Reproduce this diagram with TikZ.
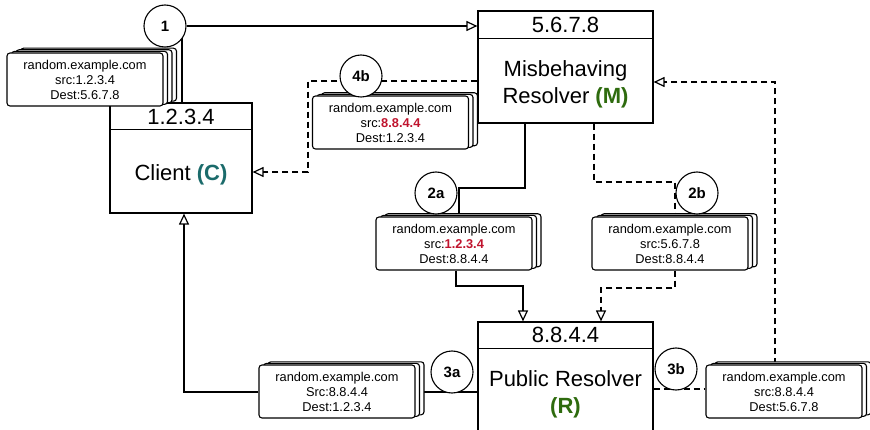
\documentclass[tikz,border=0pt]{standalone}
\usepackage{fontspec}
\setmainfont{Liberation Sans}
\usetikzlibrary{arrows.meta,calc}
\definecolor{cteal}{HTML}{1B6B6B}
\definecolor{mgreen}{HTML}{2E6B0E}
\definecolor{sred}{HTML}{C0142E}
\pgfdeclarelayer{bg}
\pgfsetlayers{bg,main}
\tikzset{
  box/.style={draw, fill=white, line width=1.2pt, inner sep=0pt},
  boxtitle/.style={font=\fontsize{22}{27}\selectfont, inner sep=0pt, align=center},
  cardshape/.style={draw, fill=white, line width=1.1pt, rounded corners=3pt,
    minimum width=156pt, minimum height=53pt, inner sep=0pt, align=center,
    font=\fontsize{12.8}{15}\selectfont},
  stepcircle/.style={circle, draw, fill=white, line width=1.1pt, minimum size=42pt,
    inner sep=0pt, font=\bfseries\fontsize{15}{18}\selectfont},
  conn/.style={line width=1.2pt},
  dconn/.style={line width=1.2pt, dash pattern=on 6pt off 4pt},
  arr/.style={-{Triangle[open,length=11pt,width=10pt]}}
}
\newcommand\stackcard[4]{%
  \foreach \k in {#3,...,1}{\node[cardshape, xshift={4.5pt*\k}, yshift={1.6pt*\k}] (#1-b\k) at (#2) {};}
  \node[cardshape] (#1) at (#2) {#4};
}
\begin{document}
\begin{tikzpicture}[x=1pt,y=-1pt]
\useasboundingbox (0,0) rectangle (870,430);

% main boxes
\node[box, minimum width=142pt, minimum height=110pt] (C) at (181,158) {};
\draw[line width=1.2pt] ([yshift=-27pt]C.north west) -- ([yshift=-27pt]C.north east);
\node[boxtitle] (Ct) at (181,117) {1.2.3.4};
\node[boxtitle] (Cb) at (181,175) {Client \textcolor{cteal}{\textbf{(C)}}};

\node[box, minimum width=175pt, minimum height=112pt] (M) at (565.5,67) {};
\draw[line width=1.2pt] ([yshift=-28pt]M.north west) -- ([yshift=-28pt]M.north east);
\node[boxtitle] (Mt) at (565.5,25) {5.6.7.8};
\node[boxtitle] (Mb) at (565.5,84) {Misbehaving\\Resolver \textcolor{mgreen}{\textbf{(M)}}};

\node[box, minimum width=175pt, minimum height=124pt] (R) at (565.5,384) {};
\draw[line width=1.2pt] ([yshift=-27pt]R.north west) -- ([yshift=-27pt]R.north east);
\node[boxtitle] (Rt) at (565.5,335) {8.8.4.4};
\node[boxtitle] (Rb) at (565.5,394) {Public Resolver\\\textcolor{mgreen}{\textbf{(R)}}};

% message cards
\stackcard{s1}{85,79.5}{3}{random.example.com\\src:1.2.3.4\\Dest:5.6.7.8}
\stackcard{s4b}{390.5,122.5}{2}{random.example.com\\src:\textcolor{sred}{\textbf{8.8.4.4}}\\Dest:1.2.3.4}
\stackcard{s2a}{454,243.5}{2}{random.example.com\\src:\textcolor{sred}{\textbf{1.2.3.4}}\\Dest:8.8.4.4}
\stackcard{s2b}{670,243.5}{2}{random.example.com\\src:5.6.7.8\\Dest:8.8.4.4}
\stackcard{s3a}{337,391.5}{2}{random.example.com\\Src:8.8.4.4\\Dest:1.2.3.4}
\stackcard{s3b}{784,391.5}{2}{random.example.com\\src:8.8.4.4\\Dest:5.6.7.8}

% step circles
\node[stepcircle] (c1) at (165,26) {1};
\node[stepcircle] (c4b) at (361,76) {4b};
\node[stepcircle] (c2a) at (436,193) {2a};
\node[stepcircle] (c2b) at (697,193) {2b};
\node[stepcircle] (c3a) at (452,372) {3a};
\node[stepcircle] (c3b) at (676,369) {3b};

% bend points
\coordinate (k1) at (182,40);
\coordinate (b4a) at (308,81);
\coordinate (b4b) at (308,172);
\coordinate (a2a) at (525,188);
\coordinate (a2b) at (459,188);
\coordinate (a2c) at (456,286);
\coordinate (a2d) at (523,286);
\coordinate (d2a) at (594,182);
\coordinate (d2b) at (675,182);
\coordinate (d2c) at (675,288);
\coordinate (d2d) at (601,288);
\coordinate (e3a) at (184,392);
\coordinate (f3a) at (653,389);
\coordinate (f3b) at (775,82);

\begin{pgfonlayer}{bg}
  % step 1
  \draw[conn] (C.north -| k1) -- (k1 |- c1.center);
  \draw[conn,arr] (c1.east) -- (c1.east -| M.west);
  % step 4b
  \draw[dconn,arr] (M.west |- b4a) -- (b4a) -- (b4b) -- (b4b -| C.east);
  % step 2a
  \draw[conn] (M.south -| a2a) -- (a2a) -- (a2b) -- (a2b |- s2a.north);
  \draw[conn,arr] (s2a.south -| a2c) -- (a2c) -- (a2d) -- (a2d |- R.north);
  % step 2b
  \draw[dconn] (M.south -| d2a) -- (d2a) -- (d2b) -- (d2b |- s2b.north);
  \draw[dconn,arr] (s2b.south -| d2c) -- (d2c) -- (d2d) -- (d2d |- R.north);
  % step 3a
  \draw[conn] (R.west |- e3a) -- (s3a.east |- e3a);
  \draw[conn,arr] (s3a.west |- e3a) -- (e3a) -- (e3a |- C.south);
  % step 3b
  \draw[dconn] (R.east |- f3a) -- (s3b.west |- f3a);
  \draw[dconn,arr] (s3b.north -| f3b) -- (f3b) -- (f3b -| M.east);
\end{pgfonlayer}
\end{tikzpicture}
\end{document}
